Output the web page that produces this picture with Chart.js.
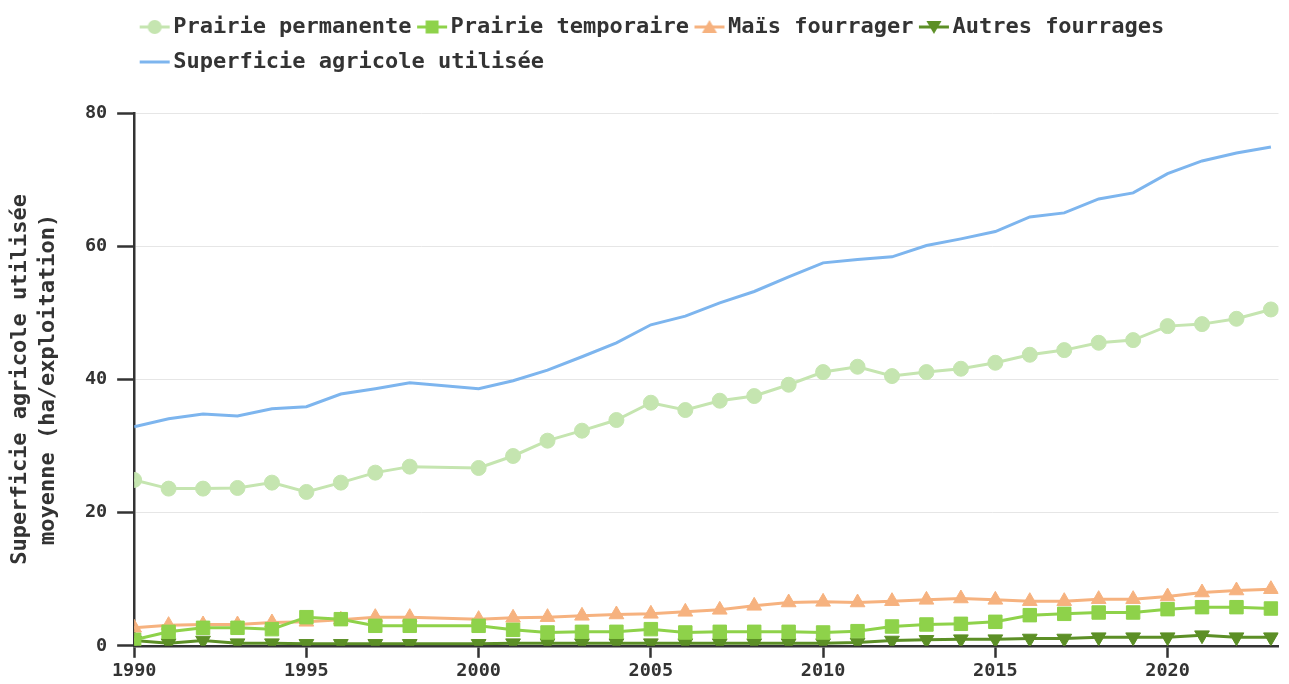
<!DOCTYPE html>
<html>
<head>
<meta charset="utf-8">
<script src="https://cdn.jsdelivr.net/npm/chart.js@4.4.1/dist/chart.umd.min.js"></script>
<style>
  html, body { margin: 0; padding: 0; background: #fff; }
  #wrap { width: 1289px; height: 684px; }
</style>
</head>
<body>
<div id="wrap"><canvas id="chart"></canvas></div>
<script>
// 1999 has no survey point, the lines jump straight from 1998 to 2000.
const years = [1990, 1991, 1992, 1993, 1994, 1995, 1996, 1997, 1998,
  2000, 2001, 2002, 2003, 2004, 2005, 2006, 2007, 2008, 2009, 2010, 2011,
  2012, 2013, 2014, 2015, 2016, 2017, 2018, 2019, 2020, 2021, 2022, 2023];

const prairiePermanente = [24.9, 23.6, 23.6, 23.7, 24.5, 23.1, 24.5, 26.0, 26.9,
  26.7, 28.5, 30.8, 32.3, 33.9, 36.5, 35.4, 36.8, 37.5, 39.2, 41.1, 41.9,
  40.5, 41.1, 41.6, 42.5, 43.7, 44.4, 45.5, 45.9, 48.0, 48.3, 49.1, 50.5];
const prairieTemporaire = [0.9, 2.1, 2.7, 2.7, 2.5, 4.3, 4.0, 3.0, 3.0,
  3.0, 2.4, 2.0, 2.1, 2.1, 2.5, 2.0, 2.1, 2.1, 2.1, 2.0, 2.2,
  2.9, 3.2, 3.3, 3.6, 4.6, 4.8, 5.0, 5.0, 5.5, 5.8, 5.8, 5.6];
const maisFourrager = [2.7, 3.1, 3.2, 3.2, 3.5, 3.6, 3.9, 4.3, 4.3,
  4.0, 4.2, 4.3, 4.5, 4.7, 4.8, 5.1, 5.4, 6.0, 6.5, 6.6, 6.5,
  6.7, 6.9, 7.1, 6.9, 6.7, 6.7, 7.0, 7.0, 7.4, 8.0, 8.3, 8.5];
const autresFourrages = [0.8, 0.4, 0.8, 0.4, 0.4, 0.3, 0.3, 0.3, 0.3,
  0.3, 0.4, 0.4, 0.4, 0.4, 0.4, 0.4, 0.4, 0.4, 0.4, 0.4, 0.5,
  0.8, 0.9, 1.0, 1.0, 1.1, 1.1, 1.3, 1.3, 1.3, 1.6, 1.3, 1.3];
const sau = [32.9, 34.1, 34.8, 34.5, 35.6, 35.9, 37.8, 38.6, 39.5,
  38.6, 39.8, 41.4, 43.4, 45.5, 48.2, 49.5, 51.5, 53.2, 55.4, 57.5, 58.0,
  58.4, 60.1, 61.1, 62.2, 64.4, 65.0, 67.1, 68.0, 70.9, 72.8, 74.0, 74.9];

const xTicks = [1990, 1995, 2000, 2005, 2010, 2015, 2020];
const yTitle = ['Superficie agricole utilisée', 'moyenne (ha/exploitation)'];

const FONT = "'DejaVu Sans Mono', monospace";
const INK = '#333';
const pts = (vals) => years.map((y, i) => ({ x: y, y: vals[i] }));

// legend swatch: short line with the marker in the middle
function swatch(color, shape) {
  const c = document.createElement('canvas');
  c.width = 32; c.height = 18;
  const g = c.getContext('2d');
  g.strokeStyle = color; g.fillStyle = color; g.lineWidth = 3;
  g.beginPath(); g.moveTo(1, 9); g.lineTo(31, 9); g.stroke();
  g.beginPath();
  if (shape === 'circle') g.arc(16, 9, 7, 0, Math.PI * 2);
  else if (shape === 'rect') g.rect(9.5, 2.5, 13, 13);
  else if (shape === 'up') { g.moveTo(16, 2); g.lineTo(23.5, 15); g.lineTo(8.5, 15); g.closePath(); }
  else if (shape === 'down') { g.moveTo(16, 16); g.lineTo(23.5, 3); g.lineTo(8.5, 3); g.closePath(); }
  if (shape) g.fill();
  return c;
}

const series = [
  { label: 'Prairie permanente', data: prairiePermanente, color: '#c5e5b0', style: 'circle', radius: 7.5, shape: 'circle' },
  { label: 'Prairie temporaire', data: prairieTemporaire, color: '#8ed24a', style: 'rect', radius: 9.5, shape: 'rect' },
  { label: 'Maïs fourrager', data: maisFourrager, color: '#f6b27f', style: 'triangle', radius: 8.5, shape: 'up' },
  { label: 'Autres fourrages', data: autresFourrages, color: '#5c8f26', style: 'triangle', radius: 8.5, shape: 'down', rotation: 180 },
  { label: 'Superficie agricole utilisée', data: sau, color: '#7db5ee', style: 'circle', radius: 0, shape: null },
];

const legendGap = {
  id: 'legendGap',
  beforeInit(chart) {
    const fit = chart.legend.fit;
    chart.legend.fit = function () { fit.bind(chart.legend)(); this.height += 30; };
  }
};

new Chart(document.getElementById('chart'), {
  type: 'line',
  data: {
    datasets: series.map((s) => ({
      label: s.label,
      data: pts(s.data),
      borderColor: s.color,
      backgroundColor: s.color,
      borderWidth: 3,
      pointStyle: s.style,
      pointRadius: s.radius,
      pointHoverRadius: s.radius,
      pointRotation: s.rotation || 0,
      pointBorderWidth: 1,
      tension: 0,
    })),
  },
  options: {
    responsive: true,
    maintainAspectRatio: false,
    animation: false,
    layout: { padding: { top: 3, right: 0, bottom: 0, left: 0 } },
    plugins: {
      tooltip: { enabled: false },
      legend: {
        position: 'top',
        align: 'start',
        fullSize: false,
        labels: {
          color: INK,
          font: { family: FONT, size: 22, weight: 'bold' },
          usePointStyle: true,
          pointStyleWidth: 15,
          padding: 13,
          generateLabels: (chart) => Chart.defaults.plugins.legend.labels.generateLabels(chart).map((item, i) => {
            item.pointStyle = swatch(series[i].color, series[i].shape);
            item.rotation = 0;
            return item;
          }),
        },
      },
    },
    scales: {
      x: {
        type: 'linear',
        min: 1990,
        max: 2023.22,
        afterBuildTicks: (axis) => { axis.ticks = xTicks.map((v) => ({ value: v })); },
        ticks: { color: INK, font: { family: FONT, size: 18.5, weight: 'bold' }, padding: 2, maxRotation: 0, callback: (v) => String(v) },
        grid: { drawOnChartArea: false, tickColor: INK, tickLength: 12, tickWidth: 2.5 },
        border: { color: INK, width: 2.5 },
      },
      y: {
        min: 0,
        max: 80,
        ticks: { stepSize: 20, color: INK, font: { family: FONT, size: 18.5, weight: 'bold' }, padding: 10 },
        grid: { color: '#e6e6e6', lineWidth: 1, tickColor: INK, tickLength: 17, tickWidth: 2.5 },
        border: { color: INK, width: 2.5 },
        title: {
          display: true,
          text: yTitle,
          color: INK,
          font: { family: FONT, size: 22, weight: 'bold', lineHeight: 1.27 },
          padding: { top: 6, bottom: 13 },
        },
      },
    },
  },
  plugins: [legendGap],
});
</script>
</body>
</html>
